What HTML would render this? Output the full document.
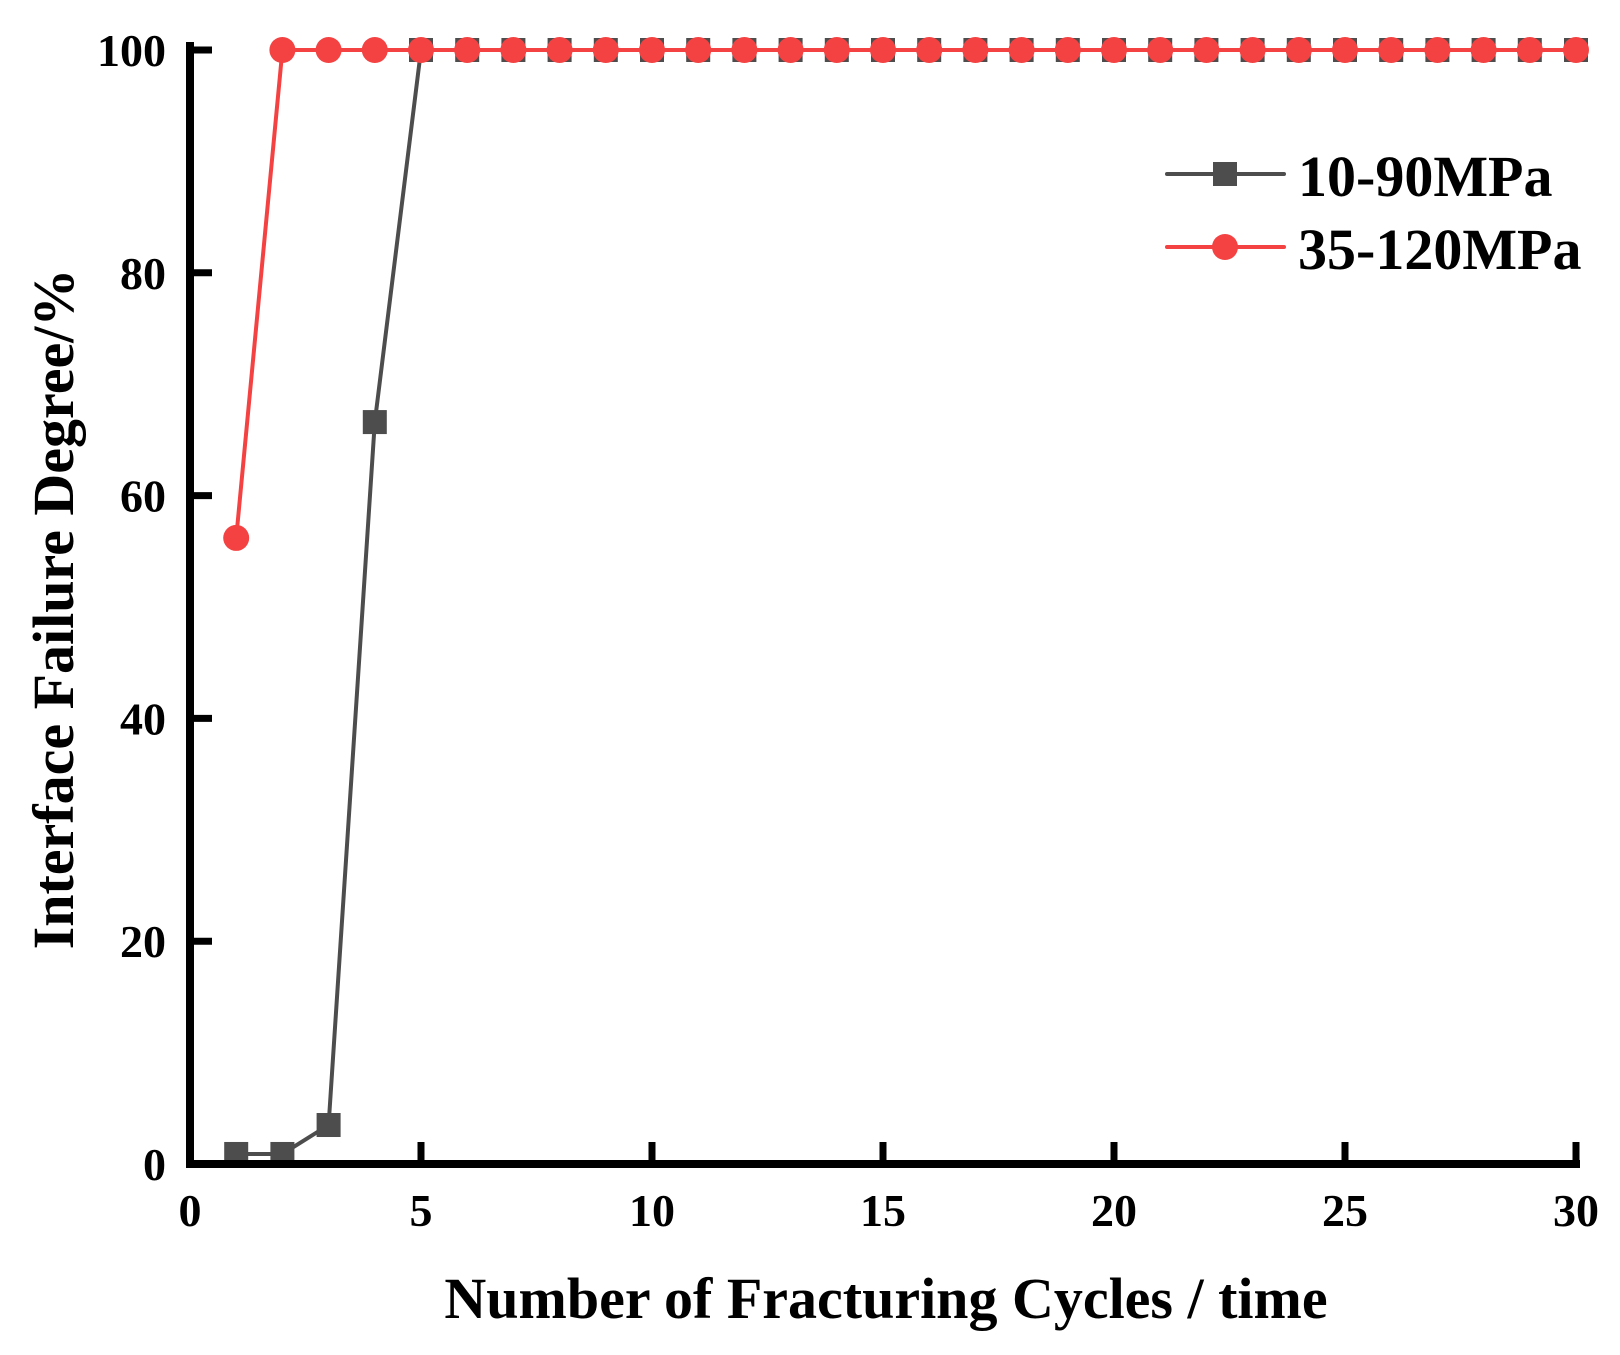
<!DOCTYPE html>
<html><head><meta charset="utf-8"><style>
html,body{margin:0;padding:0;background:#fff;}
svg{display:block;font-family:"Liberation Serif",serif;font-weight:bold;}
</style></head><body>
<svg id="chart" width="1620" height="1355" viewBox="0 0 1620 1355">
<g id="plot"></g>
</svg>
<script>
const xs = [1,2,3,4,5,6,7,8,9,10,11,12,13,14,15,16,17,18,19,20,21,22,23,24,25,26,27,28,29,30];
const seriesA = [0.9,0.9,3.5,66.6,100,100,100,100,100,100,100,100,100,100,100,100,100,100,100,100,100,100,100,100,100,100,100,100,100,100];
const seriesB = [56.2,100,100,100,100,100,100,100,100,100,100,100,100,100,100,100,100,100,100,100,100,100,100,100,100,100,100,100,100,100];
const xTicks = [0,5,10,15,20,25,30];
const yTicks = [0,20,40,60,80,100];
const seriesNames = ["10-90MPa","35-120MPa"];

const X0=190, X1=1576, Y0=1164, Y1=50;
const sx = v => X0 + (v-0)/(30-0)*(X1-X0);
const sy = v => Y0 - (v-0)/(100-0)*(Y0-Y1);
const NS="http://www.w3.org/2000/svg";
const g=document.getElementById('plot');
function mk(tag, attrs, parent){const e=document.createElementNS(NS,tag);for(const k in attrs)e.setAttribute(k,attrs[k]);(parent||g).appendChild(e);return e;}

const gA=mk('g',{});


mk('polyline',{points:xs.map((x,i)=>sx(x)+','+sy(seriesA[i])).join(' '),fill:'none',stroke:'#4d4d4d','stroke-width':4},gA);
xs.forEach((x,i)=>{const r=mk('rect',{x:sx(x)-12,y:sy(seriesA[i])-12,width:24,height:24,fill:'#4d4d4d'},gA);

});

const gB=mk('g',{});


mk('polyline',{points:xs.map((x,i)=>sx(x)+','+sy(seriesB[i])).join(' '),fill:'none',stroke:'#f44242','stroke-width':4},gB);
xs.forEach((x,i)=>{const c=mk('circle',{cx:sx(x),cy:sy(seriesB[i]),r:13,fill:'#f44242'},gB);

});

const ax=mk('g',{});


mk('path',{d:`M${X0},${Y1-4} V${Y0} H${X1}`,fill:'none',stroke:'#000','stroke-width':8,'stroke-linecap':'square'},ax);
mk('line',{x1:X0,y1:Y1,x2:X0+20,y2:Y1,stroke:'#000','stroke-width':7},ax);
xTicks.forEach(t=>{
 mk('line',{x1:sx(t),y1:Y0,x2:sx(t),y2:Y0-22,stroke:'#000','stroke-width':7},ax);
 const tx=mk('text',{x:sx(t),y:1226,'text-anchor':'middle','font-size':46},ax);
 tx.textContent=t;
 
 
});
yTicks.forEach(t=>{
 mk('line',{x1:X0,y1:sy(t),x2:X0+22,y2:sy(t),stroke:'#000','stroke-width':7},ax);
 const tx=mk('text',{x:166,y:sy(t)+16,'text-anchor':'end','font-size':46},ax);
 tx.textContent=t;
 
 
});
const xt=mk('text',{x:886,y:1318,'text-anchor':'middle','font-size':58});
xt.textContent='Number of Fracturing Cycles / time';


const yt=mk('text',{x:0,y:0,'text-anchor':'middle','font-size':58,transform:'translate(73,609) rotate(-90)'});
yt.textContent='Interface Failure Degree/%';



const lg=mk('g',{});


const l1=mk('g',{},lg);


mk('line',{x1:1167,y1:174,x2:1284,y2:174,stroke:'#4d4d4d','stroke-width':4,'stroke-linecap':'round'},l1);
mk('rect',{x:1213,y:162,width:24,height:24,fill:'#4d4d4d'},l1);
const t1=mk('text',{x:1298,y:196,'font-size':58},l1);t1.textContent=seriesNames[0];
const l2=mk('g',{},lg);


mk('line',{x1:1167,y1:247,x2:1284,y2:247,stroke:'#f44242','stroke-width':4,'stroke-linecap':'round'},l2);
mk('circle',{cx:1225,cy:247,r:13,fill:'#f44242'},l2);
const t2=mk('text',{x:1298,y:269,'font-size':58},l2);t2.textContent=seriesNames[1];
</script>
</body></html>
